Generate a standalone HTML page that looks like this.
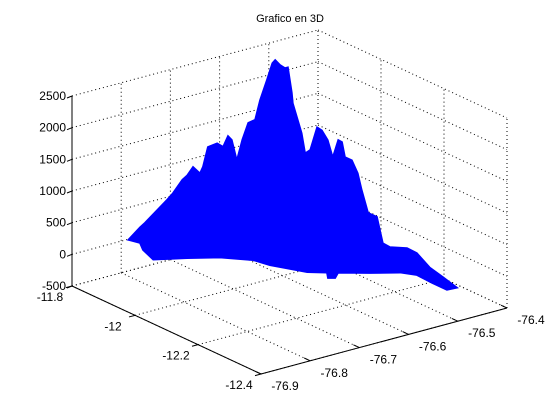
<!DOCTYPE html>
<html><head><meta charset="utf-8"><style>
html,body{margin:0;padding:0;background:#fff;}
svg{display:block;font-family:"Liberation Sans",sans-serif;}
</style></head><body>
<svg id="chart" width="560" height="420" viewBox="0 0 560 420" xmlns="http://www.w3.org/2000/svg">
<rect width="560" height="420" fill="#fff"/>
<text x="290" y="22" font-size="11" text-anchor="middle">Grafico en 3D</text>
<g id="grid"></g>
<g id="surface"></g>
<g id="axes"></g>
</svg>
<script>
const zTicks = [-500, 0, 500, 1000, 1500, 2000, 2500];
const latTicks = [-11.8, -12, -12.2, -12.4];
const latLabels = ["-11.8", "-12", "-12.2", "-12.4"];
const lonTicks = [-76.9, -76.8, -76.7, -76.6, -76.5, -76.4];
const lonLabels = ["-76.9", "-76.8", "-76.7", "-76.6", "-76.5", "-76.4"];
const outlineLat = -11.8;
const outlineLon = [-76.786,-76.762,-76.752,-76.707,-76.695,-76.676,-76.666,-76.654,-76.640,-76.634,-76.624,-76.605,-76.593,-76.583,-76.575,-76.565,-76.554,-76.542,-76.528,-76.518,-76.504,-76.493,-76.487,-76.477,-76.467,-76.461,-76.453,-76.451,-76.433,-76.426,-76.416,-76.402,-76.392,-76.380,-76.370,-76.359,-76.351,-76.345,-76.331,-76.319,-76.311,-76.298,-76.280,-76.268,-76.254,-76.219,-76.199,-76.173,-76.146,-76.117,-76.138,-76.168,-76.199,-76.233,-76.294,-76.359,-76.365,-76.380,-76.382,-76.422,-76.498,-76.532,-76.599,-76.666,-76.735,-76.756,-76.762];
const outlineElev = [-10,140,190,460,540,710,760,870,740,830,1120,1140,1060,1210,1130,790,1090,1330,1350,1640,1930,2170,2210,2110,2040,2040,1620,1450,940,610,640,970,900,720,430,680,630,380,300,70,-210,-600,-700,-1140,-1230,-1320,-1440,-1720,-1930,-2160,-2150,-1980,-1790,-1680,-1560,-1420,-1490,-1460,-1370,-1280,-1010,-860,-680,-550,-430,-230,-110];

const NS="http://www.w3.org/2000/svg";
const LAT0=-11.8, LAT1=-12.4, LON0=-76.9, LON1=-76.4, Z0=-500, Z1=2500;
const OX=72, OY=286;
function P(lat, lon, z){
  const a=(lat-LAT0)/(LAT1-LAT0), b=(lon-LON0)/(LON1-LON0), c=(z-Z0)/(Z1-Z0);
  return [OX + a*189 + b*246, OY + a*88 - b*66 - c*190];
}
function line(g, p, q, dotted, name){
  const l=document.createElementNS(NS,'line');
  l.setAttribute('x1',p[0]);l.setAttribute('y1',p[1]);l.setAttribute('x2',q[0]);l.setAttribute('y2',q[1]);
  l.setAttribute('stroke','#000');l.setAttribute('stroke-width', dotted?1:1);
  if(dotted) l.setAttribute('stroke-dasharray','1,3');
  
  
  g.appendChild(l);
}
function text(g, x, y, s, anchor, name){
  const t=document.createElementNS(NS,'text');
  t.setAttribute('x',x);t.setAttribute('y',y);t.setAttribute('font-size','12');
  t.setAttribute('text-anchor',anchor);t.textContent=s;
  
  
  g.appendChild(t);
}
const grid=document.getElementById('grid');
zTicks.forEach(z=>{
  line(grid,P(LAT0,LON0,z),P(LAT0,LON1,z),true,'grid-z-back-left');
  line(grid,P(LAT0,LON1,z),P(LAT1,LON1,z),true,'grid-z-back-right');
});
lonTicks.forEach(lon=>{
  line(grid,P(LAT0,lon,Z0),P(LAT0,lon,Z1),true,'grid-lon-wall');
  line(grid,P(LAT0,lon,Z0),P(LAT1,lon,Z0),true,'grid-lon-floor');
});
latTicks.forEach(lat=>{
  line(grid,P(lat,LON1,Z0),P(lat,LON1,Z1),true,'grid-lat-wall');
  line(grid,P(lat,LON0,Z0),P(lat,LON1,Z0),true,'grid-lat-floor');
});
const surf=document.getElementById('surface');
const poly=document.createElementNS(NS,'polygon');
poly.setAttribute('points', outlineLon.map((lon,i)=>P(outlineLat,lon,outlineElev[i]).join(',')).join(' '));
poly.setAttribute('fill','#0000ff');poly.setAttribute('stroke','#0000ff');poly.setAttribute('stroke-width','1.5');


surf.appendChild(poly);

const ax=document.getElementById('axes');
line(ax,P(LAT0,LON0,Z0),P(LAT0,LON0,Z1),false,'z-axis');
line(ax,P(LAT0,LON0,Z0),P(LAT1,LON0,Z0),false,'lat-axis');
line(ax,P(LAT1,LON0,Z0),P(LAT1,LON1,Z0),false,'lon-axis');
zTicks.forEach(z=>{
  const p=P(LAT0,LON0,z);
  line(ax,p,[p[0]-5,p[1]+2],false,'z-tick');
  text(ax,p[0]-6,p[1]+4,String(z),'end','z-tick-label');
});
latTicks.forEach((lat,i)=>{
  const p=P(lat,LON0,Z0);
  line(ax,p,[p[0]-6,p[1]+1.6],false,'lat-tick');
  text(ax,p[0]-22,p[1]+15,latLabels[i],'middle','lat-tick-label');
});
lonTicks.forEach((lon,i)=>{
  const p=P(LAT1,lon,Z0);
  line(ax,p,[p[0]-6,p[1]-2.8],false,'lon-tick');
  text(ax,p[0]+24,p[1]+16,lonLabels[i],'middle','lon-tick-label');
});
</script>
</body></html>
